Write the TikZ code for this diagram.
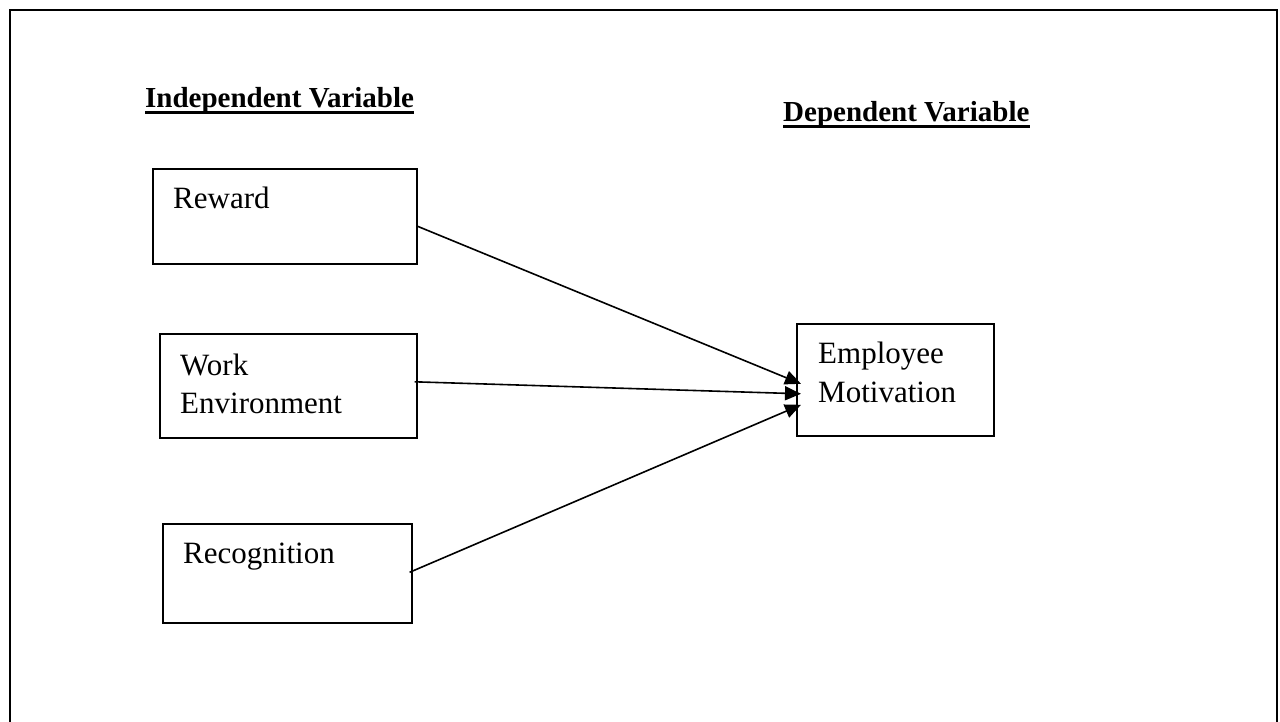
\documentclass[tikz,border=0pt]{standalone}
\usepackage{fontspec}
\setmainfont{Liberation Serif}
\usetikzlibrary{arrows.meta,calc}
\begin{document}
\begin{tikzpicture}[x=1pt,y=-1pt,
  varbox/.style={draw,line width=1.6pt,inner sep=0pt,anchor=north west},
  txt/.style={anchor=base west,inner sep=0pt,font=\fontsize{31}{38}\selectfont},
  head/.style={anchor=base west,inner sep=0pt,font=\fontsize{29}{35}\selectfont\bfseries},
  uline/.style={line width=3pt},
  conn/.style={line width=1.6pt,-{Triangle[length=16pt,width=14pt]}}]
\useasboundingbox (0,0) rectangle (1280,721);
\begin{scope}
\clip (0,0) rectangle (1280,721);
\draw[line width=2.2pt] (10,740) -- (10,10) -- (1277,10) -- (1277,740);
\end{scope}
% headings
\node[head] (ih) at (145,107) {Independent Variable};
\node[head] (dh) at (783,121) {Dependent Variable};
\draw[uline] ($(ih.base west)+(0,5)$) -- ($(ih.base east)+(0,5)$);
\draw[uline] ($(dh.base west)+(0,5)$) -- ($(dh.base east)+(0,5)$);
% boxes
\node[varbox,minimum width=264pt,minimum height=95pt] (rw) at (152,168) {};
\node[varbox,minimum width=257pt,minimum height=104pt] (we) at (159,333) {};
\node[varbox,minimum width=249pt,minimum height=99pt] (rc) at (162,523) {};
\node[varbox,minimum width=197pt,minimum height=112pt] (em) at (796,323) {};
% texts
\node[txt] (rwt) at (173,208) {Reward};
\node[txt] (wet1) at (180,375) {Work};
\node[txt] (wet2) at (180,413) {Environment};
\node[txt] (rct) at (183,563) {Recognition};
\node[txt] (emt1) at (818,363) {Employee};
\node[txt] (emt2) at (818,402) {Motivation};
% connector end points
\coordinate (s1) at ($(rw.east)+(0,10)$);
\coordinate (s2) at ($(we.east)+(-3,-4)$);
\coordinate (s3) at ($(rc.east)+(-3,-1)$);
\coordinate (e1) at ($(em.west)+(5,4)$);
\coordinate (e2) at ($(em.west)+(5,14)$);
\coordinate (e3) at ($(em.west)+(5,25)$);
\draw[conn] (s1) -- (e1);
\draw[conn] (s2) -- (e2);
\draw[conn] (s3) -- (e3);
\end{tikzpicture}
\end{document}
